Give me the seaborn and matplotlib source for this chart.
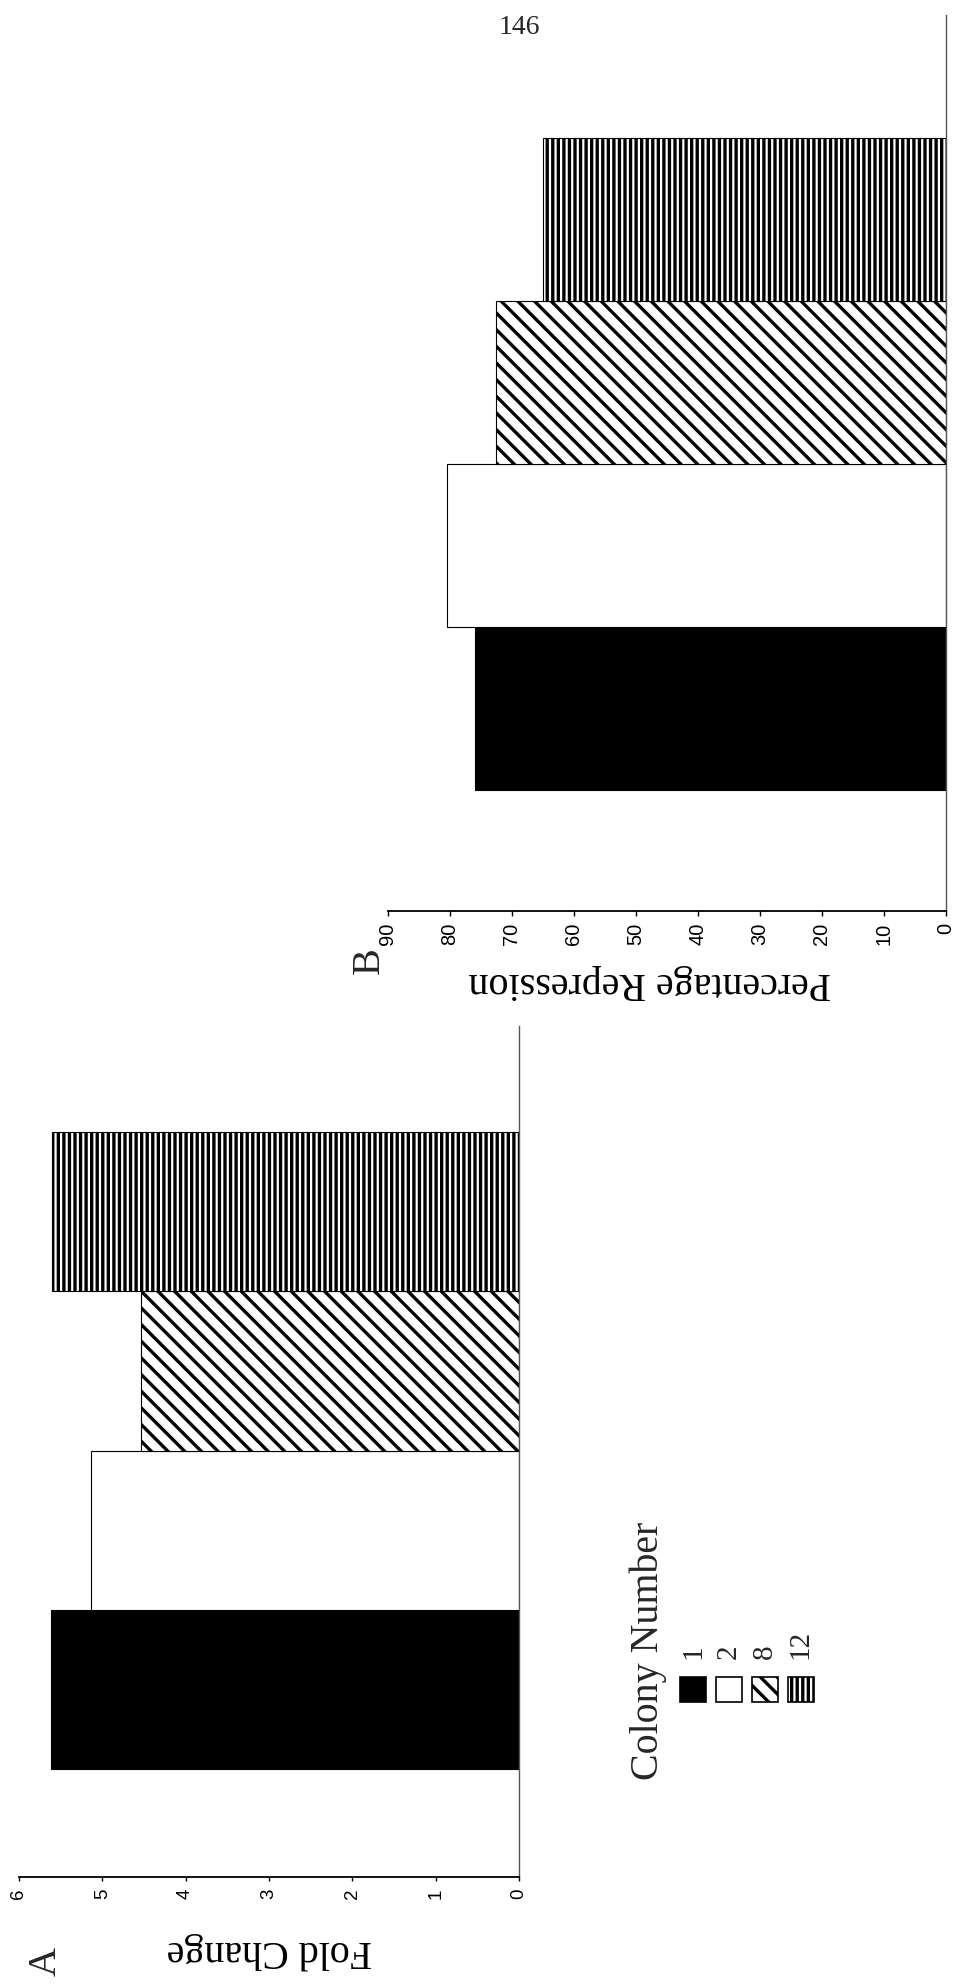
import matplotlib
matplotlib.use("Agg")
import matplotlib.pyplot as plt
from matplotlib.patches import Rectangle
import pandas as pd
import seaborn as sns

# ---- data -------------------------------------------------------------
colonies = ["1", "2", "8", "12"]
fold_change = [5.61, 5.13, 4.54, 5.60]
percent_repression = [75.9, 80.5, 72.6, 64.9]
fold_ticks = [0, 1, 2, 3, 4, 5, 6]
repression_ticks = [0, 10, 20, 30, 40, 50, 60, 70, 80, 90]
fill_colors = ["black", "white", "white", "white"]
hatch_styles = ["", "", "\\\\", "|||"]

# ---- style ------------------------------------------------------------
sns.set_theme(style="white")
SERIF = ["Liberation Serif", "DejaVu Serif"]
SANS = ["Liberation Sans", "DejaVu Sans"]
plt.rcParams["font.family"] = SANS
plt.rcParams["hatch.linewidth"] = 2.4
plt.rcParams["hatch.color"] = "black"

W, H = 956, 1986
fig = plt.figure(figsize=(W / 100, H / 100), dpi=100)
fig.patch.set_facecolor("white")


def page_axes(left, top, right, bottom):
    """Axes placed by page pixel edges (origin at the top-left corner)."""
    return fig.add_axes([left / W, 1 - bottom / H, (right - left) / W, (bottom - top) / H])


palette = dict(zip(colonies, fill_colors))
hatch_map = dict(zip(colonies, hatch_styles))
order = colonies[::-1]  # colony 1 sits at the bottom of each panel


def draw_panel(ax, values, ticks, xmax, ylim, tick_size, tick_len, tick_pad,
               label, label_xy):
    df = pd.DataFrame({"colony": colonies, "value": values})
    sns.barplot(data=df, x="value", y="colony", hue="colony", order=order,
                hue_order=colonies, palette=palette, orient="h", width=1.0,
                saturation=1, edgecolor="black", linewidth=0.8,
                legend=False, ax=ax)
    for patch in ax.patches:
        idx = int(round(patch.get_y() + patch.get_height() / 2))
        patch.set_hatch(hatch_map[order[idx]])

    ax.set_xlim(xmax, 0)
    ax.set_ylim(*ylim)
    ax.set_xticks(ticks)
    ax.set_xticklabels([str(t) for t in ticks])
    ax.set_yticks([])
    ax.set_ylabel("")
    ax.set_facecolor("white")

    for side in ("top", "left"):
        ax.spines[side].set_visible(False)
    ax.spines["right"].set_color("#555555")
    ax.spines["right"].set_linewidth(1.0)
    ax.spines["bottom"].set_color("black")
    ax.spines["bottom"].set_linewidth(1.3)

    ax.tick_params(axis="x", bottom=True, direction="out", length=tick_len,
                   width=1.0, color="black", pad=tick_pad,
                   labelsize=tick_size, labelrotation=90, labelcolor="black")
    ax.tick_params(axis="y", left=False, right=False, labelleft=False)

    ax.set_xlabel(label, fontsize=28.8, family=SERIF, rotation=180,
                  va="center", ha="center", color="black")
    ax.xaxis.set_label_coords(*label_xy)


ax_a = page_axes(18.9, 1026, 519, 1877)
draw_panel(ax_a, fold_change, fold_ticks, 6, (4.178, -1.166), 13.5, 3, 5.5,
           "Fold Change", (0.5, -0.087))

ax_b = page_axes(388, 15, 945.5, 911)
draw_panel(ax_b, percent_repression, repression_ticks, 90, (4.242, -1.257),
           14.5, 3.6, 5.0, "Percentage Repression", (0.47, -0.08))

# ---- panel letters and page number -----------------------------------
fig.text(46 / W, 1 - 1961 / H, "A", rotation=90, fontsize=29, family=SERIF,
         ha="center", va="center")
fig.text(369 / W, 1 - 961 / H, "B", rotation=90, fontsize=29, family=SERIF,
         ha="center", va="center")
fig.text(519 / W, 1 - 28 / H, "146", fontsize=20, family=SERIF,
         ha="center", va="center")

# ---- legend (laid out along the page, reading bottom to top) ---------
fig.text(648 / W, 1 - 1780 / H, "Colony Number", rotation=90, fontsize=28.8,
         family=SERIF, ha="center", va="bottom")
box_w, box_h, step = 26, 25, 35.9
for i, (name, fc, hatch) in enumerate(zip(colonies, fill_colors, hatch_styles)):
    x0 = 680 + i * step
    fig.add_artist(Rectangle((x0 / W, 1 - 1701.7 / H), box_w / W, box_h / H,
                             transform=fig.transFigure, facecolor=fc,
                             edgecolor="black", linewidth=1.2, hatch=hatch))
    fig.text((x0 + box_w / 2) / W, 1 - 1659 / H, name, rotation=90,
             fontsize=21, family=SERIF, ha="center", va="bottom")

fig.savefig("out.png", dpi=100, facecolor="white")
